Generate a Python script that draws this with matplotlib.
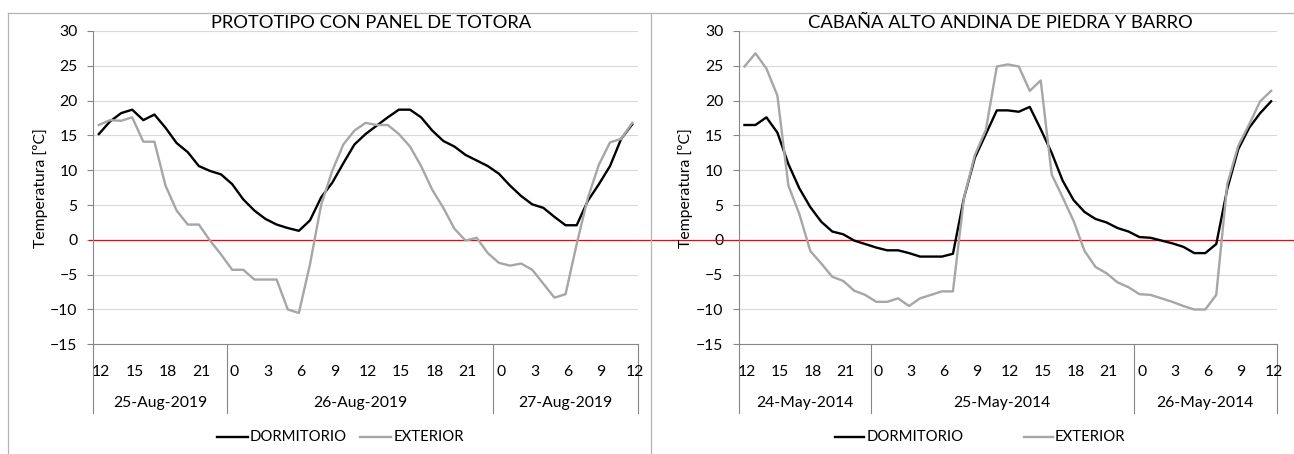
"""
Indoor (dormitorio) vs outdoor (exterior) hourly temperatures for two
high-andean buildings, drawn as two Excel-like panels side by side.
"""

import matplotlib
matplotlib.use('Agg')
import matplotlib.pyplot as plt
import matplotlib.transforms as mtransforms
from matplotlib.lines import Line2D

plt.rcParams['font.family'] = ['Lato', 'DejaVu Sans']

# 49 hourly samples: 12 h of day 1, 24 h of day 2, 13 h of day 3
day_sizes = [12, 24, 13]
hour_ticks = list(range(0, 49, 3))
hour_labels = ['12', '15', '18', '21', '0', '3', '6', '9', '12',
               '15', '18', '21', '0', '3', '6', '9', '12']

title_totora = 'PROTOTIPO CON PANEL DE TOTORA'
dates_totora = ['25-Aug-2019', '26-Aug-2019', '27-Aug-2019']
dorm_totora = [15.2, 17.0, 18.2, 18.7, 17.2, 18.0, 16.1, 13.9, 12.6, 10.6,
               9.9, 9.4, 8.0, 5.8, 4.2, 3.0, 2.2, 1.7, 1.3, 2.8,
               6.1, 8.2, 11.0, 13.7, 15.2, 16.4, 17.6, 18.7, 18.7, 17.6,
               15.7, 14.2, 13.4, 12.2, 11.4, 10.6, 9.5, 7.8, 6.3, 5.1,
               4.6, 3.3, 2.1, 2.1, 5.6, 8.0, 10.6, 14.5, 16.6]
ext_totora = [16.5, 17.2, 17.1, 17.6, 14.1, 14.1, 7.8, 4.2, 2.2, 2.2,
              -0.1, -2.1, -4.3, -4.3, -5.7, -5.7, -5.7, -10.0, -10.5, -3.5,
              5.0, 9.9, 13.7, 15.7, 16.8, 16.5, 16.5, 15.2, 13.4, 10.6,
              7.2, 4.6, 1.6, -0.1, 0.3, -1.9, -3.3, -3.7, -3.4, -4.3,
              -6.3, -8.3, -7.8, -0.6, 6.0, 10.8, 14.0, 14.5, 16.8]

title_cabana = 'CABAÑA ALTO ANDINA DE PIEDRA Y BARRO'
dates_cabana = ['24-May-2014', '25-May-2014', '26-May-2014']
dorm_cabana = [16.5, 16.5, 17.6, 15.4, 10.9, 7.4, 4.7, 2.6, 1.2, 0.8,
               -0.1, -0.6, -1.1, -1.5, -1.5, -1.9, -2.4, -2.4, -2.4, -2.0,
               6.0, 11.8, 15.2, 18.6, 18.6, 18.4, 19.1, 15.9, 12.5, 8.5,
               5.7, 4.0, 3.0, 2.5, 1.7, 1.2, 0.4, 0.3, -0.1, -0.5,
               -1.0, -1.9, -1.9, -0.6, 7.3, 13.0, 16.1, 18.2, 19.9]
ext_cabana = [24.9, 26.8, 24.6, 20.7, 7.8, 3.7, -1.6, -3.4, -5.3, -5.9,
              -7.3, -7.9, -8.9, -8.9, -8.4, -9.5, -8.4, -7.9, -7.4, -7.4,
              6.0, 12.2, 15.8, 24.9, 25.2, 24.9, 21.4, 22.9, 9.4, 6.1,
              2.7, -1.6, -3.9, -4.8, -6.1, -6.8, -7.8, -7.9, -8.4, -8.9,
              -9.5, -10.0, -10.0, -7.9, 8.0, 13.5, 16.6, 19.9, 21.4]

W, H = 1294, 454
AXIS_GREY = '#868686'
EXT_GREY = '#a6a6a6'
FONT_SIZE = 11.3


def px_x(x):
    return x / W


def px_y(y):
    # pixel rows counted from the top
    return 1 - y / H


def draw_panel(fig, left, right, title, title_x, dates, dorm, ext,
               red_from, red_to, legend_x):
    top, bottom = 31.0, 344.3
    ax = fig.add_axes([px_x(left), px_y(bottom),
                       (right - left) / W, (bottom - top) / H])
    ax_h = bottom - top
    ax_w = right - left
    n = len(dorm)

    ax.set_xlim(-0.5, n - 0.5)
    ax.set_ylim(-15, 30)
    ax.set_yticks(range(-15, 31, 5))
    ax.yaxis.grid(True, color='#d9d9d9', linewidth=0.8)
    ax.set_axisbelow(True)
    for side in ['top', 'right']:
        ax.spines[side].set_visible(False)
    for side in ['left', 'bottom']:
        ax.spines[side].set_color(AXIS_GREY)
        ax.spines[side].set_linewidth(0.8)
    ax.tick_params(axis='y', length=4.3, width=0.8, color=AXIS_GREY,
                   labelsize=FONT_SIZE, pad=7)
    ax.set_xticks([])

    # zero reference line, runs past the plot area like in the original sheet
    ax.axhline(0, xmin=(red_from - left) / ax_w, xmax=(red_to - left) / ax_w,
               color='#ff0000', linewidth=0.9, clip_on=False, zorder=2)

    ax.plot(range(n), dorm, color='black', linewidth=1.7, zorder=3)
    ax.plot(range(n), ext, color=EXT_GREY, linewidth=1.7, zorder=3)

    # two level category axis: hours, then dates with separators
    trans = mtransforms.blended_transform_factory(ax.transData, ax.transAxes)
    for pos, lab in zip(hour_ticks, hour_labels):
        ax.text(pos + 0.2, -27.4 / ax_h, lab, transform=trans, ha='center',
                va='center', fontsize=FONT_SIZE)
    edges = [-0.5]
    for size in day_sizes:
        edges.append(edges[-1] + size)
    for k, d in enumerate(dates):
        ax.text((edges[k] + edges[k + 1]) / 2, -59.0 / ax_h, d,
                transform=trans, ha='center', va='center', fontsize=FONT_SIZE)
    for e in edges:
        ax.plot([e, e], [0, -69.0 / ax_h], transform=trans, color=AXIS_GREY,
                linewidth=0.8, clip_on=False)

    fig.text(px_x(title_x), px_y(22.5), title, ha='center', va='center',
             fontsize=13.2)
    fig.text(px_x(left - 53.3), px_y((top + bottom) / 2), 'Temperatura [ºC]',
             rotation=90, ha='center', va='center', fontsize=FONT_SIZE)

    # hand placed legend below the dates
    ly = px_y(436.7)
    for (x0, x1, tx), col, lab in zip(legend_x, ['black', EXT_GREY],
                                      ['DORMITORIO', 'EXTERIOR']):
        fig.add_artist(Line2D([px_x(x0), px_x(x1)], [ly, ly], color=col,
                              linewidth=1.7))
        fig.text(px_x(tx), ly, lab, ha='left', va='center',
                 fontsize=FONT_SIZE * 0.95)
    return ax


fig = plt.figure(figsize=(W / 100, H / 100), dpi=100)

draw_panel(fig, 93.3, 637.8, title_totora, 371, dates_totora,
           dorm_totora, ext_totora, 89, 645,
           [(216.7, 248.3, 250.0), (360.0, 391.0, 393.5)])
draw_panel(fig, 739.0, 1276.6, title_cabana, 1000, dates_cabana,
           dorm_cabana, ext_cabana, 646, 1294,
           [(835.0, 864.0, 866.4), (1023.7, 1052.7, 1054.8)])

# thin frames of the two chart objects
frame_col = '#b4b4b4'
fig.add_artist(Line2D([px_x(7.5), 1], [px_y(12.7), px_y(12.7)],
                      color=frame_col, linewidth=0.9))
fig.add_artist(Line2D([px_x(7.5), px_x(7.5)], [px_y(12.7), 0],
                      color=frame_col, linewidth=0.9))
fig.add_artist(Line2D([px_x(651), px_x(651)], [px_y(12.7), 0],
                      color=frame_col, linewidth=0.9))

fig.savefig('out.png', dpi=100)
